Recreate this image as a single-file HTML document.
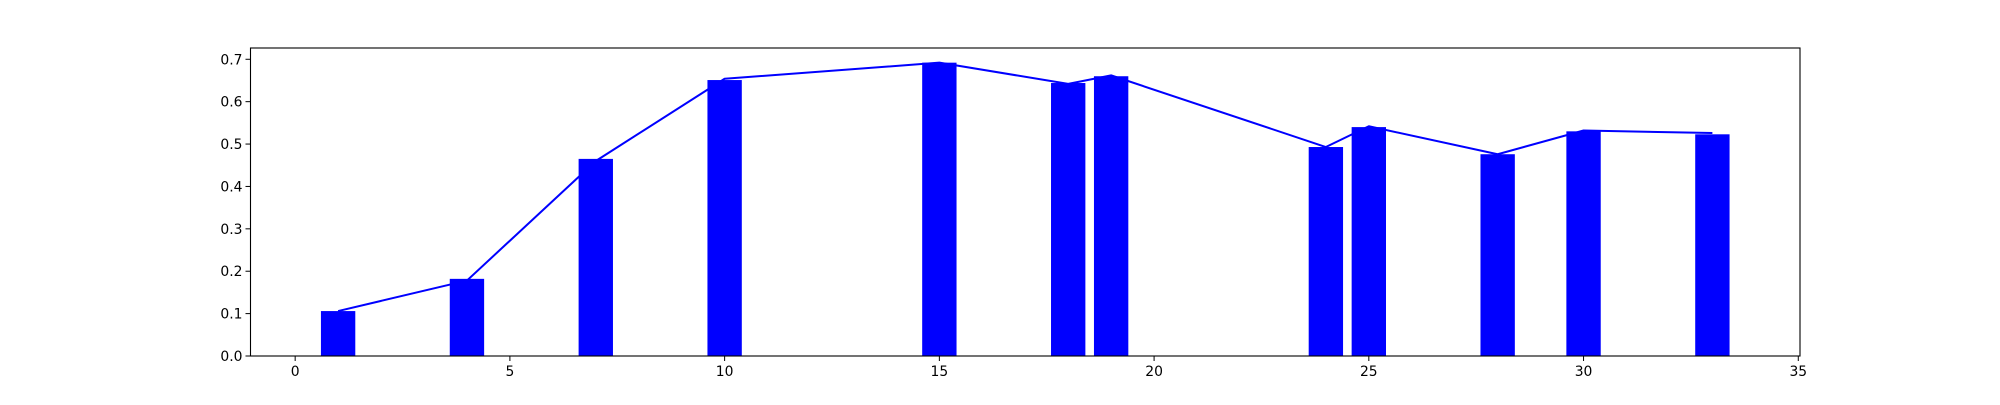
<!DOCTYPE html>
<html><head><meta charset="utf-8"><style>
html,body{margin:0;padding:0;background:#fff;}
svg text{font-family:"DejaVu Sans","Liberation Sans",sans-serif;font-size:13.9px;fill:#000;}
</style></head><body>
<svg id="chart" width="2000" height="400" xmlns="http://www.w3.org/2000/svg">
<rect width="2000" height="400" fill="#fff"/>
<g id="plot"></g>
</svg>
<script>
const categories = [1, 4, 7, 10, 15, 18, 19, 24, 25, 28, 30, 33];
const barValues = [0.106, 0.182, 0.465, 0.651, 0.692, 0.644, 0.660, 0.493, 0.540, 0.476, 0.530, 0.523];
const lineValues = [0.106, 0.178, 0.460, 0.654, 0.692, 0.642, 0.662, 0.493, 0.542, 0.476, 0.532, 0.526];
const xTicks = [0, 5, 10, 15, 20, 25, 30, 35];
const yTicks = [0.0, 0.1, 0.2, 0.3, 0.4, 0.5, 0.6, 0.7];

const L = 250.5, R = 1800, T = 48, B = 356;
const xMin = -1.04, xMax = 35.04, yMin = 0, yMax = 0.7266;
const sx = v => L + (v - xMin) / (xMax - xMin) * (R - L);
const sy = v => B - (v - yMin) / (yMax - yMin) * (B - T);
const NS = "http://www.w3.org/2000/svg";
const g = document.getElementById('plot');
function mk(tag, attrs, parent) {
  const e = document.createElementNS(NS, tag);
  for (const k in attrs) e.setAttribute(k, attrs[k]);
  (parent || g).appendChild(e);
  return e;
}
const barW = 0.8;
categories.forEach((c, i) => {
  const r = mk('rect', {x: sx(c - barW/2), y: sy(barValues[i]), width: sx(c + barW/2) - sx(c - barW/2), height: sy(0) - sy(barValues[i]), fill: '#0000ff'});
  
  
});
const pts = categories.map((c, i) => sx(c) + ',' + sy(lineValues[i])).join(' ');
const line = mk('polyline', {points: pts, fill: 'none', stroke: '#0000ff', 'stroke-width': 2, 'stroke-linejoin': 'round'});


const frame = mk('rect', {x: L, y: T, width: R - L, height: B - T, fill: 'none', stroke: '#000', 'stroke-width': 1.1});


xTicks.forEach(t => {
  const x = sx(t);
  const tk = mk('line', {x1: x, x2: x, y1: B, y2: B + 5, stroke: '#000', 'stroke-width': 1});
  
  
  const tx = mk('text', {x: x, y: B + 20, 'text-anchor': 'middle'});
  tx.textContent = t;
  
  
});
yTicks.forEach(t => {
  const y = sy(t);
  const tk = mk('line', {x1: L - 5, x2: L, y1: y, y2: y, stroke: '#000', 'stroke-width': 1});
  
  
  const tx = mk('text', {x: L - 8, y: y + 5, 'text-anchor': 'end'});
  tx.textContent = t.toFixed(1);
  
  
});
</script>
</body></html>
